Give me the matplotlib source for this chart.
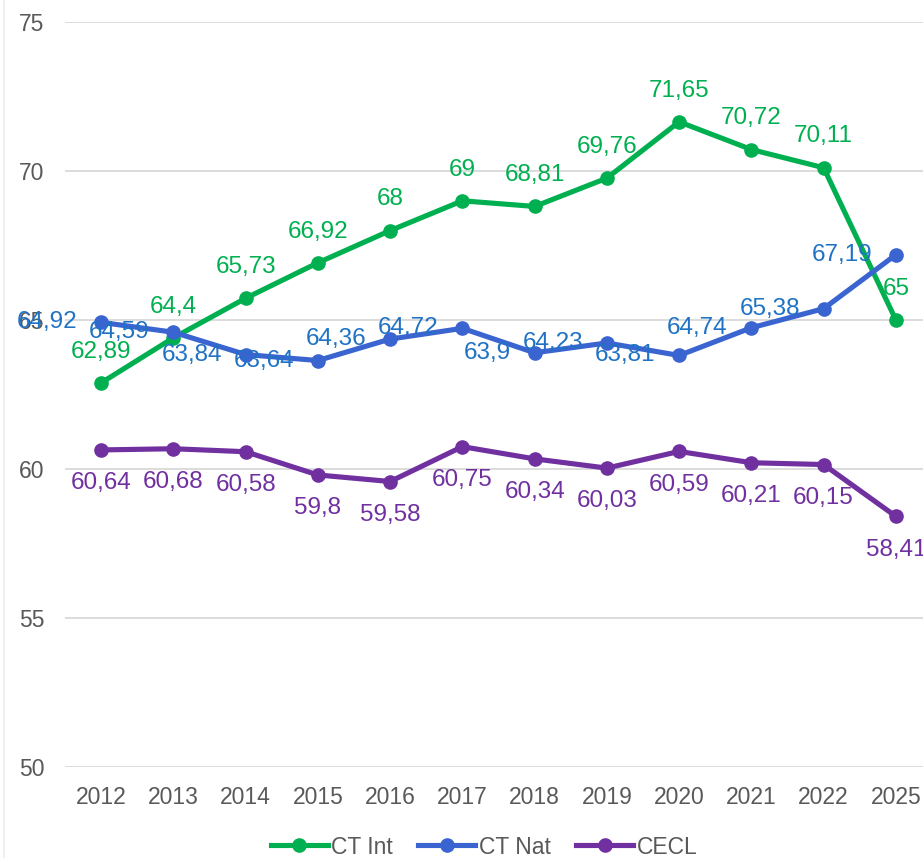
import matplotlib
matplotlib.use("Agg")
import matplotlib.pyplot as plt
from matplotlib.lines import Line2D

plt.rcParams['font.family'] = ['Liberation Sans', 'DejaVu Sans']

years = ["2012", "2013", "2014", "2015", "2016", "2017", "2018", "2019", "2020", "2021", "2022", "2025"]
ct_int = [62.89, 64.4, 65.73, 66.92, 68, 69, 68.81, 69.76, 71.65, 70.72, 70.11, 65]
ct_nat = [64.92, 64.59, 63.84, 63.64, 64.36, 64.72, 63.9, 64.23, 63.81, 64.74, 65.38, 67.19]
cecl = [60.64, 60.68, 60.58, 59.8, 59.58, 60.75, 60.34, 60.03, 60.59, 60.21, 60.15, 58.41]
yticks = [50, 55, 60, 65, 70, 75]

c_int = "#00B050"
c_nat = "#3A64D0"
c_nat_lbl = "#1F72C4"
c_cecl = "#7030A0"
grey = "#595959"

def fmt(v):
    s = ("%.2f" % v).rstrip("0").rstrip(".")
    return s.replace(".", ",")

fig = plt.figure(figsize=(9.23, 8.58), dpi=100)
left = 65 / 923
right = 932 / 923
ax = fig.add_axes([left, 1 - 767 / 858, right - left, (767 - 22) / 858])

# faint chart border at the left
fig.add_artist(Line2D([4 / 923, 4 / 923], [0, 1], transform=fig.transFigure,
                      color="#EDEDED", lw=1.2))

x = list(range(len(years)))
lw = 3.7
ms = 9.5
ax.plot(x, ct_int, color=c_int, lw=lw, marker="o", ms=ms, zorder=3, solid_capstyle="round")
ax.plot(x, ct_nat, color=c_nat, lw=lw, marker="o", ms=ms, zorder=4, solid_capstyle="round")
ax.plot(x, cecl, color=c_cecl, lw=lw, marker="o", ms=ms, zorder=3, solid_capstyle="round")

fs_lbl = 17.5
fs_tick = 16.5
for xi, v in zip(x, ct_int):
    ax.annotate(fmt(v), (xi, v), xytext=(0, 22.5), textcoords="offset points",
                ha="center", va="center", color=c_int, fontsize=fs_lbl, zorder=5)
for xi, v in zip(x, ct_nat):
    ax.annotate(fmt(v), (xi, v), xytext=(-17, 0), textcoords="offset points",
                ha="right", va="center", color=c_nat_lbl, fontsize=fs_lbl, zorder=5)
for xi, v in zip(x, cecl):
    ax.annotate(fmt(v), (xi, v), xytext=(0, -24), textcoords="offset points",
                ha="center", va="center", color=c_cecl, fontsize=fs_lbl, zorder=5)

ax.set_xlim(-0.5, len(years) - 0.5)
ax.set_ylim(50, 75)
ax.set_yticks(yticks)
ax.set_yticklabels([str(t) for t in yticks])
ax.set_xticks(x)
ax.set_xticklabels(years)
ax.tick_params(axis="both", length=0, labelsize=fs_tick, labelcolor=grey)
ax.tick_params(axis="x", pad=14)
ax.tick_params(axis="y", pad=15)
ax.grid(axis="y", color="#D9D9D9", lw=1.3)
ax.set_axisbelow(True)
for s in ax.spines.values():
    s.set_visible(False)

handles = [Line2D([0], [0], color=c, lw=lw, marker="o", ms=ms) for c in (c_int, c_nat, c_cecl)]
fig.legend(handles, ["CT Int", "CT Nat", "CECL"], loc="center", bbox_to_anchor=(484 / 923, 1 - 847 / 858),
           ncol=3, frameon=False, fontsize=16.5, labelcolor=grey, handlelength=2.5,
           handletextpad=0.15, columnspacing=1.1)

fig.savefig("out.png", dpi=100)
